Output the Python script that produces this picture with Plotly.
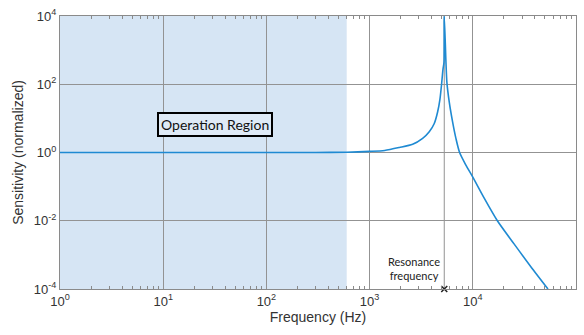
import plotly.graph_objects as go

# Frequency response
freq = [1, 10, 100, 300, 600, 1000, 1400, 1942, 2612, 3266, 3785, 4233, 4560,
        4810, 4985, 5145, 5255, 5290, 5495, 5610, 5915, 6370, 6860, 7450,
        8600, 10000, 12900, 17300, 25100, 36500, 53500]
sens = [1, 1, 1, 1.0, 1.02, 1.08, 1.15, 1.40, 1.74, 2.6, 4.06, 7.1, 15.4,
        37.5, 102, 277, 435, 10000, 435, 114, 30, 7.9, 2.6, 1.0,
        0.42, 0.19, 0.046, 0.01, 0.0021, 4.5e-4, 1e-4]

op_region = [1, 600]
f_res = 5290

x_tickvals = [1, 10, 100, 1000, 10000, 100000]
x_ticktext = ["10<sup>0</sup>", "10<sup>1</sup>", "10<sup>2</sup>", "10<sup>3</sup>",
              "10<sup>4</sup>", "10<sup>5</sup>"]
y_tickvals = [1e-4, 1e-2, 1, 1e2, 1e4]
y_ticktext = ["10<sup>-4</sup>", "10<sup>-2</sup>", "10<sup>0</sup>", "10<sup>2</sup>",
              "10<sup>4</sup>"]

minor_x = [m * 10 ** d for d in range(0, 5) for m in range(2, 10)]

grid_col = "#939393"
line_col = "#1f8ad2"

fig = go.Figure()
fig.add_trace(go.Scatter(x=freq, y=sens, mode="lines",
                         line=dict(color=line_col, width=1.6, shape="spline", smoothing=0.7),
                         showlegend=False, hoverinfo="skip"))
# resonance marker
fig.add_trace(go.Scatter(x=[f_res], y=[1e-4], mode="markers",
                         marker=dict(symbol="x-thin", size=6,
                                     line=dict(color="#222", width=1.5)),
                         cliponaxis=False, showlegend=False))

fig.add_shape(type="rect", xref="x", yref="paper", x0=op_region[0], x1=op_region[1],
              y0=0, y1=1, fillcolor="#d6e5f4", line=dict(width=0), layer="below")
fig.add_shape(type="line", xref="x", yref="paper", x0=f_res, x1=f_res, y0=0, y1=1,
              line=dict(color=grid_col, width=1), layer="below")

fig.add_annotation(x=1.5, y=0.826, xref="x", yref="y", text="Operation Region",
                   showarrow=False, font=dict(family="Lato", size=14, color="#111"),
                   bgcolor="#dfeaf6", bordercolor="#000", borderwidth=2, borderpad=2)
fig.add_annotation(x=3.704, y=-3.406, xref="x", yref="y",
                   text="Resonance<br>frequency", xanchor="right",
                   showarrow=False, align="center",
                   font=dict(family="Lato", size=11, color="#222"))

axis_common = dict(type="log", showline=True, linecolor="#8a8a8a", linewidth=1,
                   mirror="ticks", gridcolor=grid_col, gridwidth=1,
                   tickfont=dict(family="Liberation Sans", size=13, color="#333"),
                   zeroline=False)

fig.update_xaxes(**axis_common, range=[0, 5], tickvals=x_tickvals, ticktext=x_ticktext,
                 ticks="", title=dict(text="Frequency (Hz)", standoff=4,
                                      font=dict(family="Liberation Sans", size=14, color="#333")),
                 minor=dict(tickvals=minor_x, ticks="inside", ticklen=3,
                            tickcolor="#8a8a8a", showgrid=False))
fig.update_yaxes(**axis_common, range=[-4, 4], tickvals=y_tickvals, ticktext=y_ticktext,
                 ticks="", title=dict(text="Sensitivity (normalized)", standoff=6,
                                      font=dict(family="Liberation Sans", size=14, color="#333")))

fig.update_layout(width=584, height=335, margin=dict(l=60, r=7, t=13, b=46),
                  paper_bgcolor="white", plot_bgcolor="white")

fig.write_html("out.html")
